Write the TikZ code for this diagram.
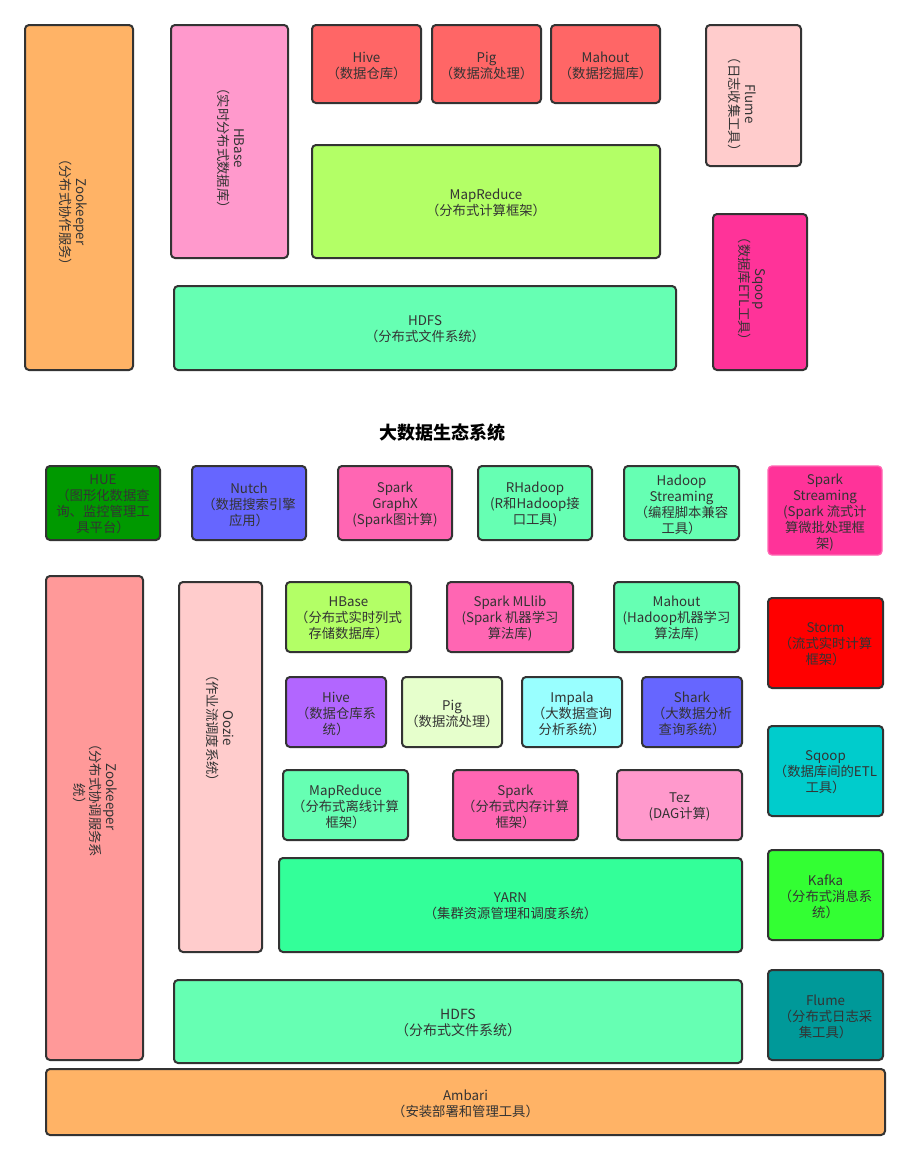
\documentclass[tikz,border=0pt]{standalone}
\usepackage{fontspec}
\setmainfont{Noto Sans CJK SC}
\definecolor{txt}{HTML}{333333}
\definecolor{edge}{HTML}{333333}
\definecolor{corange}{HTML}{FFB366}
\definecolor{cpink}{HTML}{FF99CC}
\definecolor{cred}{HTML}{FF6666}
\definecolor{clpink}{HTML}{FFCCCC}
\definecolor{clime}{HTML}{B3FF66}
\definecolor{cmint}{HTML}{66FFB3}
\definecolor{cmag}{HTML}{FF3399}
\definecolor{cgreen}{HTML}{009900}
\definecolor{cblue}{HTML}{6666FF}
\definecolor{chot}{HTML}{FF66B3}
\definecolor{csalmon}{HTML}{FF9999}
\definecolor{cstorm}{HTML}{FF0000}
\definecolor{cpurple}{HTML}{B266FF}
\definecolor{cpale}{HTML}{E6FFCC}
\definecolor{ccyan}{HTML}{99FFFF}
\definecolor{cteal}{HTML}{00CCCC}
\definecolor{ckafka}{HTML}{33FF33}
\definecolor{cyarn}{HTML}{33FF99}
\definecolor{cdteal}{HTML}{009999}
\tikzset{
  box/.style={draw=edge, line width=1.5pt, rounded corners=3pt, inner sep=0pt},
  lbl/.style={align=center, text=txt, inner sep=0pt, font={\fontsize{10}{12}\selectfont}},
  vlbl/.style={lbl, rotate=-90},
  title/.style={text=black, font={\fontsize{13.5}{16}\selectfont\bfseries}}
}
\newcommand\bx[7]{%
  \node[box, fill=#6, minimum width={(#4-#2)*0.75pt}, minimum height={(#5-#3)*0.75pt}] (#1) at ({(#2+#4)/2},{(#3+#5)/2}) {};
  \node[lbl, yshift=-1.2pt] (#1t) at (#1.center) {#7};}
\begin{document}
\begin{tikzpicture}[x=0.75pt,y=-0.75pt]
\useasboundingbox[fill=white] (0,0) rectangle (910,1161);
% ---------- top section ----------
\bx{zkA}{25}{25}{133}{370}{corange}{}
\node[vlbl] (zkAv) at (73,212) {Zookeeper\\（分布式协作服务）};
\bx{hbA}{171}{25}{288}{258}{cpink}{}
\node[vlbl] (hbAv) at (231,148) {HBase\\（实时分布式数据库）};
\bx{hiveA}{312}{25}{421}{103}{cred}{Hive\\（数据仓库）}
\bx{pigA}{432}{25}{541}{103}{cred}{Pig\\（数据流处理）}
\bx{mahA}{551}{25}{660}{103}{cred}{Mahout\\（数据挖掘库）}
\bx{flA}{706}{25}{801}{166}{clpink}{}
\node[vlbl] (flAv) at (742,104) {Flume\\（日志收集工具）};
\bx{mrA}{312}{145}{660}{258}{clime}{MapReduce\\（分布式计算框架）}
\bx{hdA}{174}{286}{676}{370}{cmint}{HDFS\\（分布式文件系统）}
\bx{sqA}{713}{214}{807}{370}{cmag}{}
\node[vlbl] (sqAv) at (752,289) {Sqoop\\（数据库ETL工具）};
\node[title] (ttl) at (442,433) {大数据生态系统};
% ---------- bottom section ----------
\bx{hue}{46}{466}{160}{540}{cgreen}{HUE\\（图形化数据查\\询、监控管理工\\具平台）}
\bx{nutch}{192}{466}{306}{540}{cblue}{Nutch\\（数据搜索引擎\\应用）}
\bx{gx}{338}{466}{452}{540}{chot}{Spark\\GraphX\\(Spark图计算)}
\bx{rh}{478}{466}{592}{540}{cmint}{RHadoop\\(R和Hadoop接\\口工具)}
\bx{hs}{624}{466}{739}{540}{cmint}{Hadoop\\Streaming\\（编程脚本兼容\\工具）}
\node[box, draw=chot, line width=1pt, fill=cmag, minimum width={114*0.75pt}, minimum height={89*0.75pt}] (ss) at (825,510.5) {};
\node[lbl, yshift=-1.2pt] (sst) at (ss.center) {Spark\\Streaming\\(Spark 流式计\\算微批处理框\\架)};
\bx{zkB}{46}{576}{143}{1060}{csalmon}{}
\node[vlbl] (zkBv) at (95,797) {Zookeeper\\（分布式协调服务系\\统）};
\bx{oz}{179}{582}{262}{952}{clpink}{}
\node[vlbl] (ozv) at (220,728) {Oozie\\（作业流调度系统）};
\bx{hbB}{286}{582}{411}{652}{clime}{HBase\\（分布式实时列式\\存储数据库）}
\bx{ml}{447}{582}{573}{652}{chot}{Spark MLlib\\(Spark 机器学习\\算法库)}
\bx{mahB}{614}{582}{739}{652}{cmint}{Mahout\\(Hadoop机器学习\\算法库)}
\bx{storm}{768}{598}{883}{688}{cstorm}{Storm\\（流式实时计算\\框架）}
\bx{hiveB}{286}{677}{386}{747}{cpurple}{Hive\\（数据仓库系\\统）}
\bx{pigB}{402}{677}{502}{747}{cpale}{Pig\\（数据流处理）}
\bx{imp}{522}{677}{622}{747}{ccyan}{Impala\\（大数据查询\\分析系统）}
\bx{shark}{642}{677}{742}{747}{cblue}{Shark\\（大数据分析\\查询系统）}
\bx{sqB}{768}{726}{883}{816}{cteal}{Sqoop\\（数据库间的ETL\\工具）}
\bx{mrB}{283}{770}{408}{840}{cmint}{MapReduce\\（分布式离线计算\\框架）}
\bx{spark}{453}{770}{578}{840}{chot}{Spark\\（分布式内存计算\\框架）}
\bx{tez}{617}{770}{742}{840}{cpink}{Tez\\(DAG计算)}
\bx{kafka}{768}{850}{883}{940}{ckafka}{Kafka\\（分布式消息系\\统）}
\bx{yarn}{279}{858}{742}{952}{cyarn}{YARN\\（集群资源管理和调度系统）}
\bx{hdB}{174}{980}{742}{1063}{cmint}{\fontsize{10.5}{13.5}\selectfont HDFS\\\fontsize{10.5}{13.5}\selectfont（分布式文件系统）}
\bx{flB}{768}{970}{883}{1060}{cdteal}{Flume\\（分布式日志采\\集工具）}
\bx{amb}{46}{1069}{885}{1135}{corange}{Ambari\\（安装部署和管理工具）}
\end{tikzpicture}
\end{document}
